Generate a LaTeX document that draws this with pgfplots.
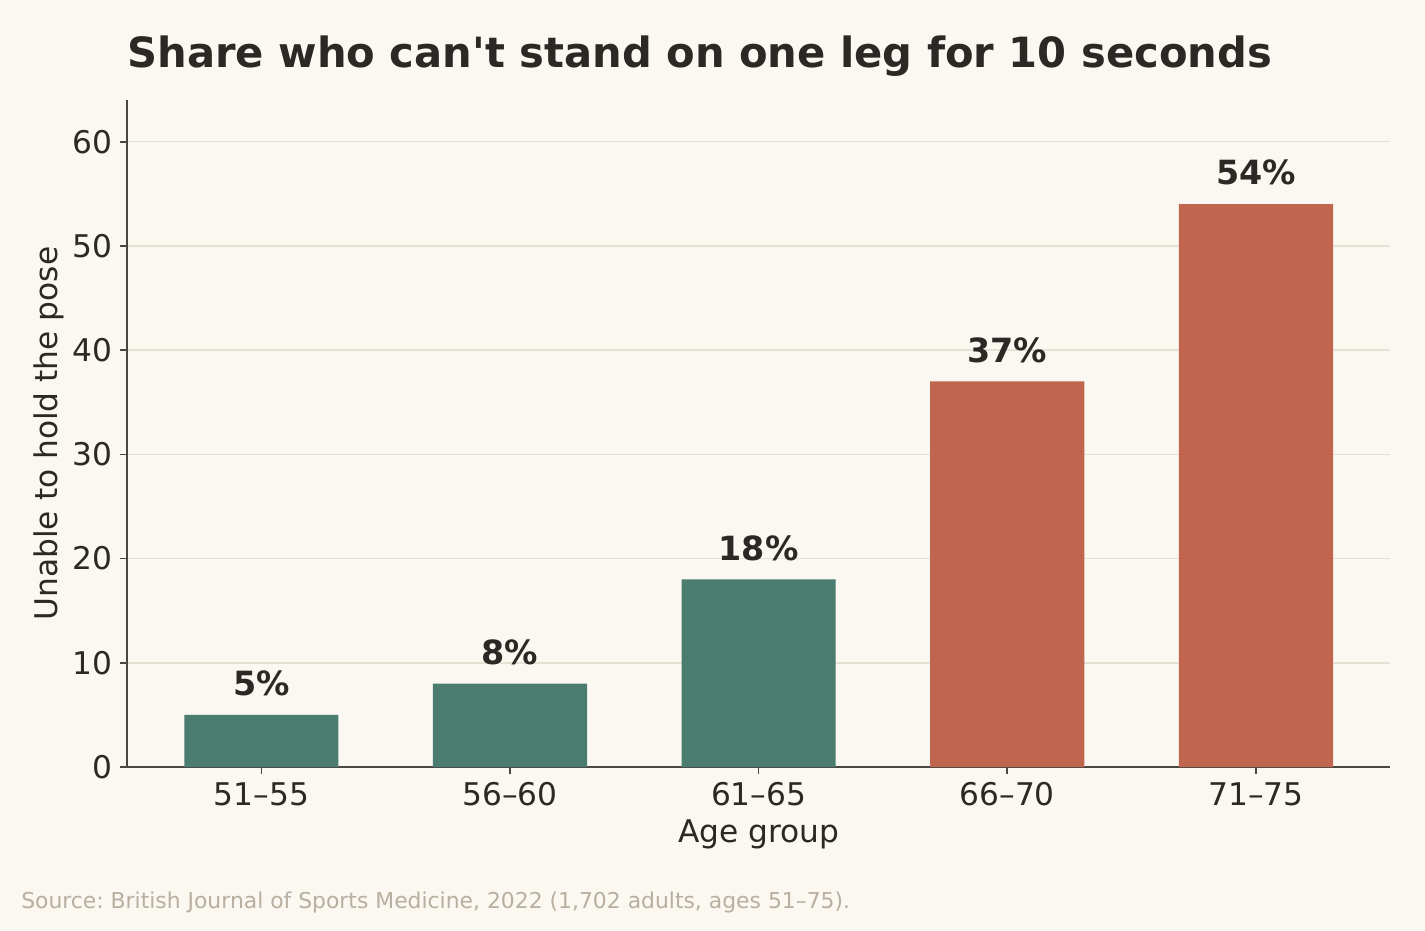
\documentclass[border=0pt]{standalone}
\usepackage{pgfplots}
\pgfplotsset{compat=1.18}
\usepackage{fontspec}
\setmainfont{DejaVu Sans}
\frenchspacing
\definecolor{bg}{HTML}{FBF7F1}
\definecolor{txt}{HTML}{2B2925}
\definecolor{axc}{HTML}{4A4642}
\definecolor{gridc}{HTML}{E6E0D5}
\definecolor{src}{HTML}{B8AFA0}
\definecolor{green}{HTML}{4A7C6F}
\definecolor{red}{HTML}{C1664E}
\begin{document}
\begin{tikzpicture}
\fill[bg] (0,0) rectangle (684pt,446.4pt);
\begin{axis}[
  at={(61pt,78.2pt)}, anchor=south west,
  scale only axis, width=606.3pt, height=320.2pt,
  xmin=-0.54, xmax=4.54, ymin=0, ymax=64,
  axis x line*=bottom, axis y line*=left,
  axis line style={axc, line width=0.8pt},
  every tick/.style={axc, line width=0.8pt},
  tick align=outside, major tick length=3.5pt,
  xtick={0,1,2,3,4},
  xticklabels={51–55,56–60,61–65,66–70,71–75},
  ytick={0,10,...,60},
  ymajorgrids, major grid style={gridc, line width=0.7pt},
  tick label style={font=\fontsize{15}{17}\selectfont, text=txt},
  /pgf/number format/assume math mode=true,
  xticklabel style={anchor=base, yshift=-15pt},
  xlabel={Age group},
  ylabel={Unable to hold the pose},
  label style={font=\fontsize{15}{17}\selectfont, text=txt},
  xlabel style={at={(axis description cs:0.5,0)}, anchor=base, yshift=-36pt},
  ylabel style={at={(axis description cs:-0.0554,0.5)}, anchor=base, rotate=0},
  nodes near coords={\pgfmathprintnumber{\pgfplotspointmeta}\%},
  nodes near coords style={font=\bfseries\fontsize{16}{18}\selectfont, text=txt, anchor=base, inner sep=0pt, yshift=9.3pt},
  point meta=explicit,
  ybar, bar width=0.62, bar shift=0pt,
  clip=false,
]
\addplot[fill=green, draw=none] coordinates {(0,5) [5] (1,8) [8] (2,18) [18]};
\addplot[fill=red, draw=none] coordinates {(3,37) [37] (4,54) [54]};
\end{axis}
\node[anchor=base west, inner sep=0pt, text=txt, font=\bfseries\fontsize{20}{24}\selectfont] at (61pt,414.2pt) {Share who can\textquotesingle t stand on one leg for 10 seconds};
\node[anchor=base west, inner sep=0pt, text=src, font=\fontsize{10.5}{12.5}\selectfont] at (10pt,10.5pt) {Source: British Journal of Sports Medicine, 2022 (1,702 adults, ages 51–75).};
\end{tikzpicture}
\end{document}
